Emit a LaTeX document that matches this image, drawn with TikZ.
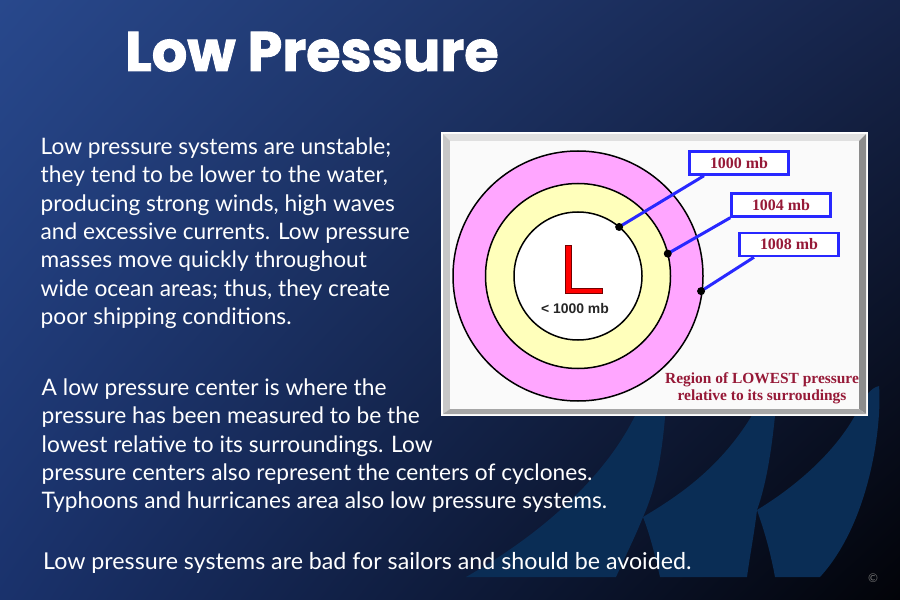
\documentclass[tikz,border=0pt]{standalone}
\usepackage{fontspec}
\usetikzlibrary{shadings}
\setmainfont{Lato}
\newfontfamily\titlefont{Poppins}[BoldFeatures={FakeBold=1.6}]
\newfontfamily\rotfont{Liberation Serif}
\newfontfamily\mbfont{Liberation Sans}
\definecolor{fondoUL}{RGB}{40,72,140}
\definecolor{fondoUR}{RGB}{22,36,74}
\definecolor{fondoLL}{RGB}{26,50,108}
\definecolor{fondoLR}{RGB}{2,3,8}
\definecolor{olaazul}{RGB}{10,45,85}
\definecolor{rosa}{RGB}{255,166,255}
\definecolor{amarillo}{RGB}{255,255,187}
\definecolor{azul}{RGB}{40,40,255}
\definecolor{granate}{RGB}{150,25,55}
\begin{document}
\begin{tikzpicture}[x=1bp,y=1bp,
	texto/.style={text=white, font=\fontsize{22.8}{28.4}\selectfont, align=left, anchor=base west, inner sep=0},
	isobara/.style={draw=black, line width=1.5bp},
	etiqueta/.style={draw=azul, line width=2.5bp, fill=white, minimum width=99bp, minimum height=23bp, inner sep=0, text=granate, font=\rotfont\bfseries\fontsize{16}{16}\selectfont},
	enlace/.style={azul, line width=3bp},
	punto/.style={circle, fill=black, inner sep=0, minimum size=8bp}]
	% Fondo
		\shade[upper left=fondoUL, upper right=fondoUR, lower left=fondoLL, lower right=fondoLR] (0,0) rectangle (900,-600);
		\useasboundingbox (0,0) rectangle (900,-600);
	
	% Olas
		\fill[olaazul] (466,-577) .. controls (540,-535) and (610,-475) .. (640,-405) -- (666,-405) .. controls (662,-460) and (655,-490) .. (643,-517) .. controls (635,-537) and (625,-557) .. (616,-577) -- cycle;
		\fill[olaazul] (643,-517) .. controls (680,-495) and (725,-465) .. (758,-405) -- (776,-405) .. controls (772,-450) and (766,-485) .. (757,-510) .. controls (754,-535) and (750,-555) .. (747,-577) -- (660,-577) .. controls (655,-555) and (650,-535) .. (643,-517) -- cycle;
		\fill[olaazul] (757,-510) .. controls (790,-490) and (835,-455) .. (858,-410) .. controls (864,-398) and (870,-388) .. (879,-386) .. controls (882,-420) and (872,-520) .. (820,-577) -- (775,-577) .. controls (770,-550) and (764,-530) .. (757,-510) -- cycle;
	
	% Caja con relieve
		\fill[white] (441,-132) rectangle (868,-416);
		\fill[black!12] (443,-134) -- (866,-134) -- (859,-141) -- (450,-141) -- cycle;
		\fill[black!22] (443,-134) -- (450,-141) -- (450,-409) -- (443,-414) -- cycle;
		\fill[black!45] (866,-134) -- (866,-414) -- (859,-409) -- (859,-141) -- cycle;
		\fill[black!35] (443,-414) -- (866,-414) -- (859,-409) -- (450,-409) -- cycle;
		\fill[black!2] (450,-141) rectangle (859,-409);
	
	% Isobaras
		\coordinate (centro) at (578,-276);
		\draw[isobara, fill=rosa] (centro) circle[radius=125];
		\draw[isobara, fill=amarillo] (centro) circle[radius=92.5];
		\draw[isobara, fill=white] (centro) circle[radius=64];
	
	% Letra L
		\filldraw[fill=red, draw=red!45!black, line width=0.6bp] (565,-245) -- (571,-245) -- (571,-288.5) -- (602,-288.5) -- (602,-293.5) -- (565,-293.5) -- cycle;
		\node[font=\mbfont\bfseries\fontsize{14}{14}\selectfont, text=black!85] (menor) at (575,-308.5) {< 1000 mb};
	
	% Etiquetas
		\node[etiqueta] (e1) at (739,-163) {1000 mb};
		\node[etiqueta] (e2) at (781,-205) {1004 mb};
		\node[etiqueta] (e3) at (789,-244.5) {1008 mb};
	
	% Puntos y enlaces
		\path (centro) ++(50:64) coordinate (p1);
		\path (centro) ++(14:92.5) coordinate (p2);
		\path (centro) ++(-7:124) coordinate (p3);
		\draw[enlace] (p1) -- (e1.200);
		\draw[enlace] (p2) -- (e2.south west);
		\draw[enlace] (p3) -- (e3.200);
		\node[punto] (d1) at (p1) {};
		\node[punto] (d2) at (p2) {};
		\node[punto] (d3) at (p3) {};
	
	% Nota de la caja
		\node[text=granate, font=\rotfont\bfseries\fontsize{15.5}{17}\selectfont, align=center] (region) at (762,-388) {Region of LOWEST pressure\\relative to its surroudings};
	
	% Titulo y textos (base = ultima linea)
		\node[font=\titlefont\bfseries\fontsize{56}{56}\selectfont, text=white, anchor=base west, inner sep=0] (titulo) at (125,-71) {Low Pressure};
		\node[texto] (par1) at (40.5,-324.4) {Low pressure systems are unstable;\\they tend to be lower to the water,\\producing strong winds, high waves\\and excessive currents. Low pressure\\masses move quickly throughout\\wide ocean areas; thus, they create\\poor shipping conditions.};
		\node[texto] (par2) at (41.5,-508.6) {A low pressure center is where the\\pressure has been measured to be the\\lowest relative to its surroundings. Low\\pressure centers also represent the centers of cyclones.\\Typhoons and hurricanes area also low pressure systems.};
		\node[texto, font=\fontsize{23.3}{28.4}\selectfont] (par3) at (43,-569) {Low pressure systems are bad for sailors and should be avoided.};
		\node[text=black!55, font=\fontsize{12}{12}\selectfont] (copia) at (873,-578) {©};
\end{tikzpicture}
\end{document}
